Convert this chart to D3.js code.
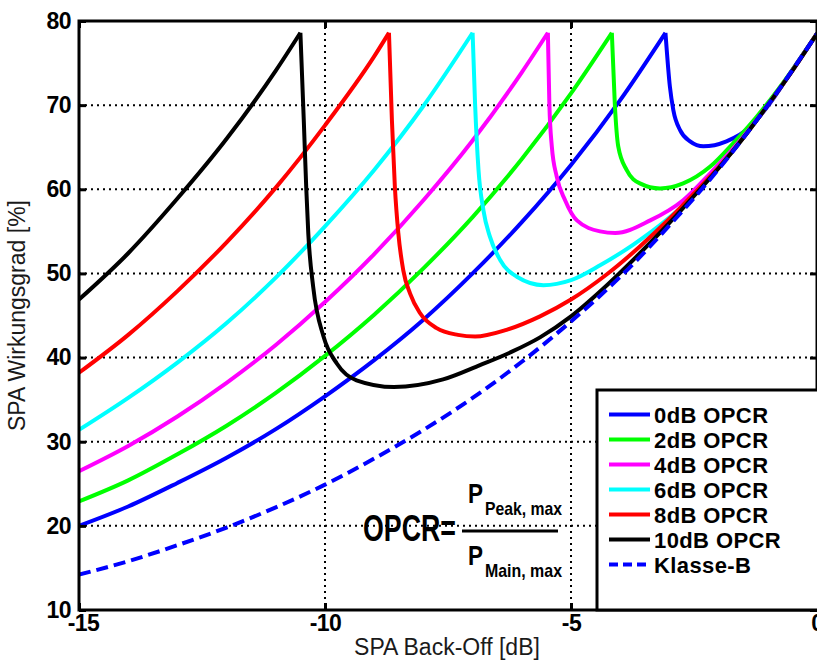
<!DOCTYPE html>
<html>
<head>
<meta charset="utf-8">
<script src="https://cdn.jsdelivr.net/npm/d3@7"></script>
<style>
  html, body { margin: 0; padding: 0; background: #ffffff; }
  svg { display: block; }
  text { font-family: "Liberation Sans", Arial, Helvetica, sans-serif; }
</style>
</head>
<body>
<svg id="chart" width="817" height="662"></svg>
<script>
// ---------------- data ----------------
const xTicks = [-15, -10, -5, 0];
const yTicks = [10, 20, 30, 40, 50, 60, 70, 80];
const seriesNames = ["0dB OPCR", "2dB OPCR", "4dB OPCR", "6dB OPCR", "8dB OPCR", "10dB OPCR", "Klasse-B"];
const seriesColors = ["#0000ff", "#00ff00", "#ff00ff", "#00ffff", "#ff0000", "#000000", "#0000ff"];

// [back-off dB, efficiency %]
const opcr0 = [[-15,20.0],[-14,22.3],[-13,25.1],[-12,28.1],[-11,31.5],[-10,35.4],[-9,39.7],[-8,44.5],[-7,50.0],[-6,56.1],[-5,62.9],[-4,70.6],[-3.08,78.6],
  [-2.99,72.2],[-2.92,69.4],[-2.78,67.0],[-2.58,65.7],[-2.31,65.1],[-1.84,65.7],[-1.36,67.4],[-0.96,70.2],[-0.5,74.2],[0,78.5]];
const opcr2 = [[-15,22.9],[-14,25.4],[-13,28.5],[-12,31.9],[-11,35.8],[-10,40.2],[-9,45.1],[-8,50.6],[-7,56.7],[-6,63.6],[-5,71.4],[-4.17,78.6],
  [-4.11,70.2],[-4.04,65.1],[-3.87,62.3],[-3.6,60.7],[-3.19,60.1],[-2.72,60.7],[-2.17,62.7],[-1.7,65.5],[-1.23,68.6],[-0.5,74.2],[0,78.5]];
const opcr4 = [[-15,26.5],[-14,29.5],[-13,33.0],[-12,37.0],[-11,41.5],[-10,46.6],[-9,52.3],[-8,58.7],[-7,65.8],[-6,73.9],[-5.47,78.6],
  [-5.44,70.2],[-5.39,65.1],[-5.29,61.5],[-5.12,58.7],[-4.88,56.3],[-4.41,55.0],[-4.1,54.8],[-3.39,56.3],[-2.72,58.7],[-2.17,61.9],[-1.71,64.8],[-1.0,70.0],[-0.5,74.1],[0,78.5]];
const opcr6 = [[-15,31.4],[-14,35.2],[-13,39.4],[-12,44.1],[-11,49.5],[-10,55.6],[-9,62.3],[-8,69.9],[-7.0,78.6],
  [-6.95,70.2],[-6.88,62.3],[-6.78,57.5],[-6.65,54.4],[-6.44,51.6],[-6.1,49.6],[-5.56,48.6],[-5.0,49.2],[-4.4,51.0],[-3.74,53.4],[-3.05,56.4],[-2.38,60.0],[-2,62.6],[-1.5,66.1],[-1,70.0],[-0.5,74.1],[0,78.5]];
const opcr8 = [[-15,38.2],[-14,42.7],[-13,47.9],[-12,53.7],[-11,60.2],[-10,67.6],[-9,75.8],[-8.7,78.6],
  [-8.64,68.2],[-8.58,60.3],[-8.51,54.8],[-8.41,50.4],[-8.27,47.6],[-8.07,45.3],[-7.73,43.5],[-7.3,42.7],[-6.95,42.5],[-6.31,43.3],[-5.63,44.9],[-5.0,46.9],[-4.27,49.9],[-3.6,53.2],[-3,56.5],[-2.5,59.5],[-2,62.6],[-1.5,66.1],[-1,70.0],[-0.5,74.1],[0,78.5]];
const opcr10 = [[-15,46.9],[-14,52.4],[-13,58.9],[-12,66.0],[-11,74.1],[-10.5,78.6],
  [-10.43,68.0],[-10.38,60.0],[-10.34,54.8],[-10.24,48.4],[-10.03,42.5],[-9.76,39.3],[-9.36,37.3],[-8.6,36.5],[-7.6,37.4],[-6.85,39.1],[-6.2,40.7],[-5.63,42.4],[-5.0,44.9],[-4.27,48.6],[-3.6,52.4],[-3,56.0],[-2.5,59.2],[-2,62.5],[-1.5,66.1],[-1,70.0],[-0.5,74.1],[0,78.5]];
const klasseB = [[-15,14.2],[-14,15.8],[-13,17.7],[-12,19.8],[-11,22.2],[-10,24.9],[-9,28.0],[-8,31.4],[-7,35.2],[-6,39.5],[-5,44.3],[-4,49.6],[-3,55.7],[-2,62.4],[-1,70.0],[0,78.5]];

const seriesData = [opcr0, opcr2, opcr4, opcr6, opcr8, opcr10, klasseB];

// ---------------- layout ----------------
const svg = d3.select("#chart");
const L = 79, R = 817, T = 21, B = 610;
const x = d3.scaleLinear().domain([-15, 0]).range([L, R]);
const y = d3.scaleLinear().domain([10, 80]).range([B, T]);

svg.append("rect").attr("width", 817).attr("height", 662).attr("fill", "#fff");

svg.append("defs").append("clipPath").attr("id", "plotclip")
  .append("rect").attr("x", L).attr("y", T).attr("width", R - L).attr("height", B - T);

// grid
const grid = svg.append("g").attr("stroke", "#000").attr("stroke-width", 2).attr("stroke-dasharray", "2,4");
grid.selectAll("line.h").data(yTicks.filter(v => v > 10 && v < 80)).join("line")
  .attr("x1", L).attr("x2", R).attr("y1", d => y(d)).attr("y2", d => y(d));
grid.selectAll("line.v").data(xTicks.filter(v => v > -15 && v < 0)).join("line")
  .attr("class", "v")
  .attr("y1", T).attr("y2", B).attr("x1", d => x(d)).attr("x2", d => x(d));

// curves: rising branch and falling branch drawn separately so the peak stays sharp
const line = d3.line().x(d => x(d[0])).y(d => y(d[1])).curve(d3.curveMonotoneX);
const curves = svg.append("g").attr("clip-path", "url(#plotclip)").attr("fill", "none");
seriesData.forEach((data, i) => {
  const isB = i === 6;
  let parts;
  if (isB) parts = [data];
  else {
    const pk = d3.maxIndex(data.slice(0, data.length - 1), d => d[1]);
    parts = [data.slice(0, pk + 1), data.slice(pk)];
  }
  parts.forEach(p => {
    curves.append("path").datum(p).attr("d", line)
      .attr("stroke", seriesColors[i]).attr("stroke-width", 4)
      .attr("stroke-linejoin", "round")
      .attr("stroke-dasharray", isB ? "12,6" : null);
  });
});

// axes (inward ticks)
const fontTick = 'bold 23px "Liberation Sans", Arial, sans-serif';
const ax = svg.append("g").attr("transform", `translate(0,${B})`)
  .call(d3.axisBottom(x).tickValues(xTicks).tickFormat(d => String(d)).tickSize(-7).tickSizeOuter(0).tickPadding(5));
const ay = svg.append("g").attr("transform", `translate(${L},0)`)
  .call(d3.axisLeft(y).tickValues(yTicks).tickFormat(d => String(d)).tickSize(-7).tickSizeOuter(0).tickPadding(8));
const at = svg.append("g").attr("transform", `translate(0,${T})`)
  .call(d3.axisTop(x).tickValues(xTicks).tickFormat("").tickSize(-7).tickSizeOuter(0));
const ar = svg.append("g").attr("transform", `translate(${R},0)`)
  .call(d3.axisRight(y).tickValues(yTicks).tickFormat("").tickSize(-7).tickSizeOuter(0));
[ax, ay, at, ar].forEach(g => {
  g.select(".domain").remove();
  g.selectAll(".tick line").attr("stroke", "#000").attr("stroke-width", 3);
  g.selectAll(".tick text").attr("fill", "#000").style("font", fontTick).style("letter-spacing", "-0.5px");
});
ax.selectAll(".tick text").attr("dx", d => d === -15 ? 4 : 0);

// frame
svg.append("rect").attr("x", L).attr("y", T).attr("width", R - L).attr("height", B - T)
  .attr("fill", "none").attr("stroke", "#000").attr("stroke-width", 3);

// axis titles
svg.append("text").attr("x", 447).attr("y", 655).attr("text-anchor", "middle")
  .attr("fill", "#1a1a1a").style("font-size", "23px").text("SPA Back-Off [dB]");
svg.append("text").attr("transform", `translate(25,${(T + B) / 2}) rotate(-90)`).attr("text-anchor", "middle")
  .attr("fill", "#1a1a1a").style("font-size", "23px").text("SPA Wirkungsgrad [%]");

// formula
const f = svg.append("g").attr("fill", "#000").style("font-weight", "bold");
f.append("text").attr("x", 363).attr("y", 541).style("font-size", "36px")
  .attr("textLength", 93).attr("lengthAdjust", "spacingAndGlyphs").text("OPCR=");
f.append("line").attr("x1", 462).attr("x2", 558).attr("y1", 531).attr("y2", 531)
  .attr("stroke", "#000").attr("stroke-width", 3);
f.append("text").attr("x", 468).attr("y", 503).style("font-size", "28px")
  .attr("textLength", 15).attr("lengthAdjust", "spacingAndGlyphs").text("P");
f.append("text").attr("x", 485).attr("y", 515).style("font-size", "18.5px")
  .attr("textLength", 77).attr("lengthAdjust", "spacingAndGlyphs").text("Peak, max");
f.append("text").attr("x", 468).attr("y", 565).style("font-size", "28px")
  .attr("textLength", 15).attr("lengthAdjust", "spacingAndGlyphs").text("P");
f.append("text").attr("x", 485).attr("y", 577).style("font-size", "18.5px")
  .attr("textLength", 77).attr("lengthAdjust", "spacingAndGlyphs").text("Main, max");

// legend
const lg = svg.append("g");
lg.append("rect").attr("x", 597).attr("y", 390).attr("width", 240).attr("height", B - 390)
  .attr("fill", "#fff").attr("stroke", "#000").attr("stroke-width", 3);
seriesNames.forEach((name, i) => {
  const cy = 414.5 + i * 25;
  lg.append("line").attr("x1", 609).attr("x2", 650).attr("y1", cy).attr("y2", cy)
    .attr("stroke", seriesColors[i]).attr("stroke-width", 4)
    .attr("stroke-dasharray", i === 6 ? "9,5" : null);
  lg.append("text").attr("x", 654).attr("y", cy + 8).attr("fill", "#000")
    .style("font", 'bold 22px "Liberation Sans", Arial, sans-serif').style("letter-spacing", "0.4px")
    .text(name);
});
</script>
</body>
</html>
